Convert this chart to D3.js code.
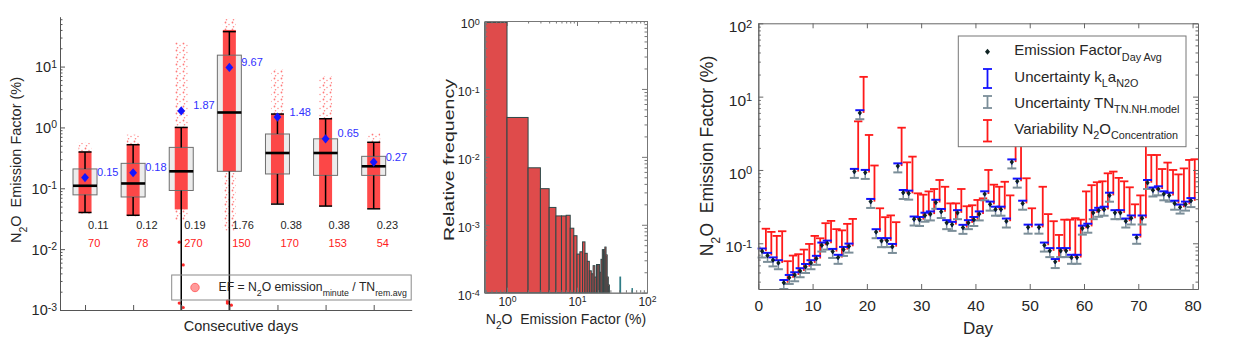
<!DOCTYPE html>
<html><head><meta charset="utf-8">
<script src="https://cdn.jsdelivr.net/npm/d3@7"></script>
<style>
body{margin:0;background:#fff;}
text{font-family:"Liberation Sans",Arial,Helvetica,sans-serif;white-space:pre;}
</style></head><body>
<svg id="c" width="1236" height="351" xmlns="http://www.w3.org/2000/svg">
<defs>
<pattern id="speck" width="7" height="7" patternUnits="userSpaceOnUse">
<circle cx="1.5" cy="1.5" r="0.9" fill="#ff4040" opacity="0.7"/>
<circle cx="5" cy="3.5" r="0.8" fill="#ff4040" opacity="0.55"/>
<circle cx="2.5" cy="5.8" r="0.8" fill="#ff4040" opacity="0.65"/>
</pattern>
</defs>
</svg>
<script>
// ================= Panel A: box plots per consecutive day =================
const groups    = [1,2,3,4,5,6,7];
const q1        = [0.078,0.072,0.092,0.19,0.172,0.163,0.163];
const q3        = [0.208,0.257,0.47,15.4,0.78,0.65,0.335];
const medians   = [0.11,0.12,0.19,1.76,0.38,0.38,0.23];
const whiskerLo = [0.040,0.036,0.0005,0.0005,0.055,0.051,0.046];
const whiskerHi = [0.395,0.52,1.0,37.5,1.66,1.39,0.57];
const means     = [0.15,0.18,1.87,9.67,1.48,0.65,0.27];
const counts    = [70,78,270,150,170,153,54];
// extent of the minute-level red point clouds
const cloudBottom = [0.038,0.034,0.03,0.02,0.055,0.05,0.046];
const cloudLo     = [0.040,0.036,0.045,0.19,0.056,0.051,0.047];
const cloudHi     = [0.40,0.52,1.0,40,1.66,1.4,0.57];
const cloudMax    = [0.56,0.76,25,62,9,7,0.8];
const outlierGroup = [3,3,3,3,4,4,4];
const outlierVal   = [0.013,0.0055,0.0013,0.0011,0.0013,0.0012,0.0014];
const yTicksA = [1e-3,1e-2,1e-1,1,10];

// ================= Panel B: histogram =================
const binLo = [0,1,2,3,4,5,6,7,8,9,10,11,12,13,14,15,16,17,18,19,20,21,22,23,24,25,26,27,28,41,61];
const binHi = [1,2,3,4,5,6,7,8,9,10,11,12,13,14,15,16,17,18,19,20,21,22,23,24,25,26,27,28,29,42,62];
const relFreq = [0.955,0.038,0.0069,0.0034,0.0018,0.00135,0.00135,0.00138,0.00089,0.00069,
                 0.00037,0.0004,0.00056,0.00038,0.00029,0.00021,0.00019,0.00025,0.00017,0.00026,
                 0.00026,0.0002,0.00031,0.00043,0.00043,0.00047,0.00036,0.00017,0.00013,0.00017,0.000115];
const xTicksB = [1,10,100];
const yTicksB = [1e-4,1e-3,1e-2,1e-1,1];

// ================= Panel C: daily emission factor =================
const days = [1,2,3,4,5,6,7,8,9,10,11,12,13,14,15,16,17,18,19,20,21,22,23,24,25,26,27,28,29,30,
              31,32,33,34,35,36,37,38,39,40,41,42,43,44,45,46,47,48,49,50,
              52,53,54,55,56,57,58,59,60,61,62,63,64,65,66,67,68,69,70,71,72,73,74,75,76,77,78,79,80];
const efDayAvg = [0.078,0.068,0.059,0.054,0.029,0.034,0.037,0.042,0.048,0.054,
                  0.062,0.094,0.10,0.077,0.064,0.082,0.091,0.95,6.0,0.92,
                  0.37,0.143,0.108,0.108,0.09,1.13,0.49,0.48,0.213,0.21,
                  0.24,0.25,0.36,0.27,0.19,0.18,0.26,0.164,0.19,0.21,
                  0.25,0.47,0.34,0.29,0.29,0.2,1.28,0.7,0.35,0.165,
                  0.165,0.094,0.079,0.056,0.079,0.079,0.064,0.064,0.16,0.17,
                  0.26,0.28,0.29,0.45,0.26,0.26,0.2,0.22,0.12,0.22,
                  0.67,0.53,0.55,0.47,0.45,0.35,0.31,0.34,0.38];
const n2oVarTop = [0.158,0.143,0.126,0.146,0.057,0.068,0.071,0.082,0.098,0.126,
                   0.117,0.188,0.202,0.156,0.15,0.184,0.215,4.6,18.6,3.0,
                   1.15,0.30,0.227,0.24,0.194,3.77,1.27,1.52,0.48,0.46,
                   0.51,0.55,0.73,0.59,0.35,0.35,0.55,0.32,0.33,0.39,
                   0.41,1.0,0.63,0.59,0.69,0.45,3.0,2.5,0.77,0.30,
                   0.59,0.25,0.2,0.13,0.21,0.21,0.22,0.21,0.51,0.62,
                   0.68,0.7,0.9,0.95,0.78,0.7,0.58,0.34,0.45,2.5,
                   1.6,1.6,1.03,1.26,1.0,0.87,1.05,1.37,1.4];
const kLaUncUp = 0.088;   // relative uncertainty kLa (upper)
const kLaUncLo = 0.07;
const tnUncLo  = 0.18;    // relative uncertainty TN model (lower)
const xTicksC = [0,10,20,30,40,50,60,70,80];
const yTicksC = [0.1,1,10,100];

// ---------------------------------------------------------------
const svg = d3.select('#c');
const FONT = '"Liberation Sans",Arial,Helvetica,sans-serif';
const SP2 = '\u00A0\u00A0';

function minorTicks(domain){
  const out=[]; const lo=Math.floor(Math.log10(domain[0])), hi=Math.ceil(Math.log10(domain[1]));
  for(let e=lo;e<=hi;e++) for(let m=2;m<=9;m++){const v=m*Math.pow(10,e); if(v>domain[0]&&v<domain[1]) out.push(v);}
  return out;
}
function rich(sel, parts, size){
  let shift=0;
  parts.forEach(p=>{
    const target = p.s==='sub'? size*0.38 : p.s==='sup'? -size*0.42 : 0;
    sel.append('tspan').attr('dy', (target-shift).toFixed(2)).attr('font-size', p.s? size*0.72: size).text(p.t);
    shift=target;
  });
}
function powLabels(g, size){
  g.selectAll('.tick text').each(function(d){
    const t=d3.select(this); t.text(null);
    t.append('tspan').text('10');
    t.append('tspan').attr('dy','-0.42em').attr('font-size',size*0.72).text(Math.round(Math.log10(d)));
  });
}
function styleAxis(g, col, size){
  g.attr('font-family',FONT).attr('font-size',size);
  g.selectAll('path.domain').attr('stroke',col);
  g.selectAll('.tick line').attr('stroke',col);
  g.selectAll('.tick text').attr('fill','#262626');
}

// ================= Panel A =================
{
const gA = svg.append('g');
const xA = d3.scaleLinear().domain([0.48,7.79]).range([60,411.7]);
const yA = d3.scaleLog().domain([1e-3,66]).range([310,16.7]);
const clampA = v=>yA(Math.max(v,1e-3));
const hw=12, cw=6.5;

gA.selectAll('rect.box').data(groups).join('rect')
  .attr('x',d=>xA(d)-hw).attr('width',2*hw)
  .attr('y',(d,i)=>yA(q3[i])).attr('height',(d,i)=>yA(q1[i])-yA(q3[i]))
  .attr('fill','#ececec');
// sparse cloud parts (speckled)
gA.selectAll('rect.sp1').data(groups).join('rect')
  .attr('x',d=>xA(d)-cw).attr('width',2*cw)
  .attr('y',(d,i)=>yA(cloudMax[i])).attr('height',(d,i)=>yA(cloudHi[i])-yA(cloudMax[i]))
  .attr('fill','url(#speck)');
gA.selectAll('rect.sp2').data(groups).join('rect')
  .attr('x',d=>xA(d)-cw).attr('width',2*cw)
  .attr('y',(d,i)=>yA(cloudLo[i])).attr('height',(d,i)=>yA(cloudBottom[i])-yA(cloudLo[i]))
  .attr('fill','url(#speck)');
// dense cloud
gA.selectAll('rect.dn').data(groups).join('rect')
  .attr('x',d=>xA(d)-cw).attr('width',2*cw)
  .attr('y',(d,i)=>yA(cloudHi[i])).attr('height',(d,i)=>yA(cloudLo[i])-yA(cloudHi[i]))
  .attr('fill','#ff2a2a').attr('opacity',0.85);
gA.selectAll('circle.out').data(outlierVal).join('circle')
  .attr('cx',(d,i)=>xA(outlierGroup[i])+((i%2)?2:-2)).attr('cy',d=>yA(d)).attr('r',1.6)
  .attr('fill','#ff2a2a');
// box outline
gA.selectAll('rect.boxo').data(groups).join('rect')
  .attr('x',d=>xA(d)-hw).attr('width',2*hw)
  .attr('y',(d,i)=>yA(q3[i])).attr('height',(d,i)=>yA(q1[i])-yA(q3[i]))
  .attr('fill','none').attr('stroke','#6e6e6e').attr('stroke-width',1);
// whiskers
gA.selectAll('line.wu').data(groups).join('line')
  .attr('x1',d=>xA(d)).attr('x2',d=>xA(d)).attr('y1',(d,i)=>yA(q3[i])).attr('y2',(d,i)=>yA(whiskerHi[i]))
  .attr('stroke','#000').attr('stroke-width',1.5);
gA.selectAll('line.wl').data(groups).join('line')
  .attr('x1',d=>xA(d)).attr('x2',d=>xA(d)).attr('y1',(d,i)=>yA(q1[i])).attr('y2',(d,i)=>clampA(whiskerLo[i]))
  .attr('stroke','#000').attr('stroke-width',1.5);
gA.selectAll('line.cu').data(groups).join('line')
  .attr('x1',d=>xA(d)-6.5).attr('x2',d=>xA(d)+6.5).attr('y1',(d,i)=>yA(whiskerHi[i])).attr('y2',(d,i)=>yA(whiskerHi[i]))
  .attr('stroke','#000').attr('stroke-width',1.5);
gA.selectAll('line.cl').data(groups.filter((d,i)=>whiskerLo[i]>1e-3)).join('line')
  .attr('x1',d=>xA(d)-6.5).attr('x2',d=>xA(d)+6.5).attr('y1',d=>yA(whiskerLo[d-1])).attr('y2',d=>yA(whiskerLo[d-1]))
  .attr('stroke','#000').attr('stroke-width',1.5);
gA.selectAll('line.med').data(groups).join('line')
  .attr('x1',d=>xA(d)-hw).attr('x2',d=>xA(d)+hw).attr('y1',(d,i)=>yA(medians[i])).attr('y2',(d,i)=>yA(medians[i]))
  .attr('stroke','#000').attr('stroke-width',2.6);
// means
gA.selectAll('path.mean').data(groups).join('path')
  .attr('d',(d,i)=>{const x=xA(d),y=yA(means[i]);return `M${x},${y-4.6}L${x+3.9},${y}L${x},${y+4.6}L${x-3.9},${y}Z`;})
  .attr('fill','#1414ff');
gA.selectAll('text.meanl').data(groups).join('text')
  .attr('x',d=>xA(d)+12).attr('y',(d,i)=>yA(means[i])-1.5)
  .attr('font-size',11).attr('fill','#3030ff').text((d,i)=>means[i].toFixed(2));
gA.selectAll('text.medl').data(groups).join('text')
  .attr('x',d=>xA(d)+3).attr('y',229.3).attr('font-size',11).attr('fill','#262626')
  .text((d,i)=>medians[i].toFixed(2));
gA.selectAll('text.cnt').data(groups).join('text')
  .attr('x',d=>xA(d)+3).attr('y',247.3).attr('font-size',11).attr('fill','#ff2020')
  .text((d,i)=>counts[i]);

// axes
const ax = gA.append('g').attr('transform','translate(60,0)')
  .call(d3.axisLeft(yA).tickValues(yTicksA).tickSize(-5).tickSizeOuter(0).tickPadding(3));
styleAxis(ax,'#555',14.5); ax.selectAll('.tick text').attr('dy','0.34em'); powLabels(ax,14.5);
const axm = gA.append('g').attr('transform','translate(60,0)')
  .call(d3.axisLeft(yA).tickValues(minorTicks(yA.domain())).tickSize(-2.5).tickSizeOuter(0).tickFormat(''));
styleAxis(axm,'#555',13); axm.select('path.domain').remove();
const bx = gA.append('g').attr('transform','translate(0,310)')
  .call(d3.axisBottom(xA).tickValues(groups).tickSize(-5).tickSizeOuter(0).tickFormat(''));
styleAxis(bx,'#555',13);

gA.append('text').attr('x',241).attr('y',331).attr('text-anchor','middle')
  .attr('font-size',14.5).attr('fill','#262626').text('Consecutive days');
const yl = gA.append('text').attr('transform','translate(21,160) rotate(-90)')
  .attr('text-anchor','middle').attr('fill','#262626');
rich(yl,[{t:'N'},{t:'2',s:'sub'},{t:'O'+SP2+'Emission Factor (%)'}],14.5);

// legend
gA.append('rect').attr('x',171.7).attr('y',275).attr('width',239.5).attr('height',25)
  .attr('fill','none').attr('stroke','#8a8a8a').attr('stroke-width',1);
gA.append('circle').attr('cx',195).attr('cy',287.5).attr('r',4.2)
  .attr('fill','#ff9a9a').attr('stroke','#ff6a6a').attr('stroke-width',1);
const lt = gA.append('text').attr('x',218.5).attr('y',291).attr('fill','#262626');
rich(lt,[{t:'EF = N'},{t:'2',s:'sub'},{t:'O emission'},{t:'minute',s:'sub'},{t:' / TN'},{t:'rem.avg',s:'sub'}],12.2);
}

// ================= Panel B =================
{
const gB = svg.append('g');
const xB = d3.scaleLog().domain([0.48,100]).range([484.7,647]);
const yB = d3.scaleLog().domain([1e-4,1]).range([292.7,21]);
const x0 = v=> v<=xB.domain()[0]? xB.range()[0] : xB(v);
gB.selectAll('rect.bar').data(relFreq).join('rect')
  .attr('x',(d,i)=>x0(binLo[i])).attr('width',(d,i)=>xB(binHi[i])-x0(binLo[i]))
  .attr('y',d=>yB(d)).attr('height',d=>yB.range()[0]-yB(d))
  .attr('fill',(d,i)=>binLo[i]>=40? '#2f7c86':'#df4b4b')
  .attr('stroke',(d,i)=>binLo[i]>=40? '#2f7c86':'#2d4848').attr('stroke-width',1);
const col='#777';
const mk=(axisFn,scale,vals,size,tr,fmt,pad)=>{
  const g=gB.append('g').attr('transform',tr).call(axisFn(scale).tickValues(vals).tickSize(-size).tickSizeOuter(0).tickPadding(pad||4));
  if(!fmt) g.selectAll('.tick text').remove();
  styleAxis(g,col,12.5); return g;
};
const lB = mk(d3.axisLeft,yB,yTicksB,5,'translate(484.7,0)',true,5);
lB.selectAll('.tick text').attr('dy','0.55em'); powLabels(lB,12.5);
mk(d3.axisLeft,yB,minorTicks(yB.domain()),2.5,'translate(484.7,0)',false);
mk(d3.axisRight,yB,yTicksB,5,'translate(647,0)',false);
mk(d3.axisRight,yB,minorTicks(yB.domain()),2.5,'translate(647,0)',false);
const bB = mk(d3.axisBottom,xB,xTicksB,5,'translate(0,292.7)',true,2);
bB.selectAll('.tick text').attr('dy','0.95em'); powLabels(bB,12);
bB.attr('font-size',12);
mk(d3.axisBottom,xB,minorTicks(xB.domain()),2.5,'translate(0,292.7)',false);
mk(d3.axisTop,xB,xTicksB,5,'translate(0,21)',false);
mk(d3.axisTop,xB,minorTicks(xB.domain()),2.5,'translate(0,21)',false);
const xl = gB.append('text').attr('x',566).attr('y',324).attr('text-anchor','middle').attr('fill','#262626');
rich(xl,[{t:'N'},{t:'2',s:'sub'},{t:'O'+SP2+'Emission Factor (%)'}],14);
gB.append('text').attr('transform','translate(454,160) rotate(-90)').attr('text-anchor','middle')
  .attr('font-size',15).attr('fill','#262626').attr('textLength',162).attr('lengthAdjust','spacingAndGlyphs')
  .text('Relative frequency');
}

// ================= Panel C =================
{
const gC = svg.append('g');
const xC = d3.scaleLinear().domain([0,81]).range([758.3,1198]);
const yC = d3.scaleLog().domain([0.0238,100]).range([289,23.3]);
const mx = d=>xC(d-0.3), rx = d=>xC(d+0.4);
const red='#ff1a1a', blue='#1212ff', gray='#7b8e99';
// red variability bars
gC.selectAll('line.rv').data(days).join('line')
  .attr('x1',d=>rx(d)).attr('x2',d=>rx(d)).attr('y1',(d,i)=>yC(efDayAvg[i])).attr('y2',(d,i)=>yC(n2oVarTop[i]))
  .attr('stroke',red).attr('stroke-width',1.8);
gC.selectAll('line.rc').data(days).join('line')
  .attr('x1',d=>rx(d)-4.2).attr('x2',d=>rx(d)+4.2).attr('y1',(d,i)=>yC(n2oVarTop[i])).attr('y2',(d,i)=>yC(n2oVarTop[i]))
  .attr('stroke',red).attr('stroke-width',1.8);
// gray TN uncertainty
gC.selectAll('line.gv').data(days).join('line')
  .attr('x1',d=>mx(d)).attr('x2',d=>mx(d)).attr('y1',(d,i)=>yC(efDayAvg[i])).attr('y2',(d,i)=>yC(efDayAvg[i]*(1-tnUncLo)))
  .attr('stroke',gray).attr('stroke-width',1.5);
gC.selectAll('line.gc').data(days).join('line')
  .attr('x1',d=>mx(d)-4.5).attr('x2',d=>mx(d)+4.5).attr('y1',(d,i)=>yC(efDayAvg[i]*(1-tnUncLo))).attr('y2',(d,i)=>yC(efDayAvg[i]*(1-tnUncLo)))
  .attr('stroke',gray).attr('stroke-width',2);
// blue kLa uncertainty
gC.selectAll('line.bv').data(days).join('line')
  .attr('x1',d=>mx(d)).attr('x2',d=>mx(d)).attr('y1',(d,i)=>yC(efDayAvg[i]*(1+kLaUncUp))).attr('y2',(d,i)=>yC(efDayAvg[i]*(1-kLaUncLo)))
  .attr('stroke',blue).attr('stroke-width',1.5);
gC.selectAll('line.bc').data(days).join('line')
  .attr('x1',d=>mx(d)-4.5).attr('x2',d=>mx(d)+4.5).attr('y1',(d,i)=>yC(efDayAvg[i]*(1+kLaUncUp))).attr('y2',(d,i)=>yC(efDayAvg[i]*(1+kLaUncUp)))
  .attr('stroke',blue).attr('stroke-width',2);
// markers
gC.selectAll('path.ef').data(days).join('path')
  .attr('d',(d,i)=>{const x=mx(d),y=yC(efDayAvg[i]);return `M${x},${y-2.6}L${x+2.2},${y}L${x},${y+2.6}L${x-2.2},${y}Z`;})
  .attr('fill','#0e2222');

const col='#666';
const mk=(axisFn,scale,vals,size,tr,fmt,fs)=>{
  const g=gC.append('g').attr('transform',tr).call(axisFn(scale).tickValues(vals).tickSize(-size).tickSizeOuter(0).tickPadding(6));
  if(!fmt) g.selectAll('.tick text').remove();
  styleAxis(g,col,fs||14); return g;
};
const lC = mk(d3.axisLeft,yC,yTicksC,5,'translate(758.3,0)',true,15.5);
lC.selectAll('.tick text').attr('dy','0.55em'); powLabels(lC,15.5);
mk(d3.axisLeft,yC,minorTicks(yC.domain()),2.5,'translate(758.3,0)',false);
mk(d3.axisRight,yC,yTicksC,5,'translate(1198,0)',false);
mk(d3.axisRight,yC,minorTicks(yC.domain()),2.5,'translate(1198,0)',false);
const bC = mk(d3.axisBottom,xC,xTicksC,5,'translate(0,289)',true,15.5);
bC.selectAll('.tick text').attr('dy','1.0em');
mk(d3.axisTop,xC,xTicksC,5,'translate(0,23.3)',false);

gC.append('text').attr('x',978).attr('y',334).attr('text-anchor','middle')
  .attr('font-size',17).attr('fill','#262626').text('Day');
const yl = gC.append('text').attr('transform','translate(713,156) rotate(-90)')
  .attr('text-anchor','middle').attr('fill','#262626');
rich(yl,[{t:'N'},{t:'2',s:'sub'},{t:'O'+SP2+'Emission Factor (%)'}],17.5);

// legend
gC.append('rect').attr('x',958.3).attr('y',36).attr('width',227.7).attr('height',110.7)
  .attr('fill','#fff').attr('stroke','#777').attr('stroke-width',1);
const lx=987.5;
gC.append('path').attr('d',`M${lx},${51.7-3}L${lx+2.5},51.7L${lx},${51.7+3}L${lx-2.5},51.7Z`).attr('fill','#0e2222');
const iBar=(y1,y2,c)=>{
  gC.append('line').attr('x1',lx).attr('x2',lx).attr('y1',y1).attr('y2',y2).attr('stroke',c).attr('stroke-width',1.8);
  [y1,y2].forEach(y=>gC.append('line').attr('x1',lx-4.5).attr('x2',lx+4.5).attr('y1',y).attr('y2',y).attr('stroke',c).attr('stroke-width',1.8));
};
iBar(69,88,blue); iBar(96,108,gray); iBar(120,141.5,red);
const tx=1014.3, fs=15;
rich(gC.append('text').attr('x',tx).attr('y',55).attr('fill','#262626'),[{t:'Emission Factor'},{t:'Day Avg',s:'sub'}],fs);
rich(gC.append('text').attr('x',tx).attr('y',81.5).attr('fill','#262626'),[{t:'Uncertainty k'},{t:'L',s:'sub'},{t:'a'},{t:'N2O',s:'sub'}],fs);
rich(gC.append('text').attr('x',tx).attr('y',107.5).attr('fill','#262626'),[{t:'Uncertainty TN'},{t:'TN.NH.model',s:'sub'}],fs);
rich(gC.append('text').attr('x',tx).attr('y',133.5).attr('fill','#262626'),[{t:'Variability N'},{t:'2',s:'sub'},{t:'O'},{t:'Concentration',s:'sub'}],fs);
}
</script>
</body></html>
